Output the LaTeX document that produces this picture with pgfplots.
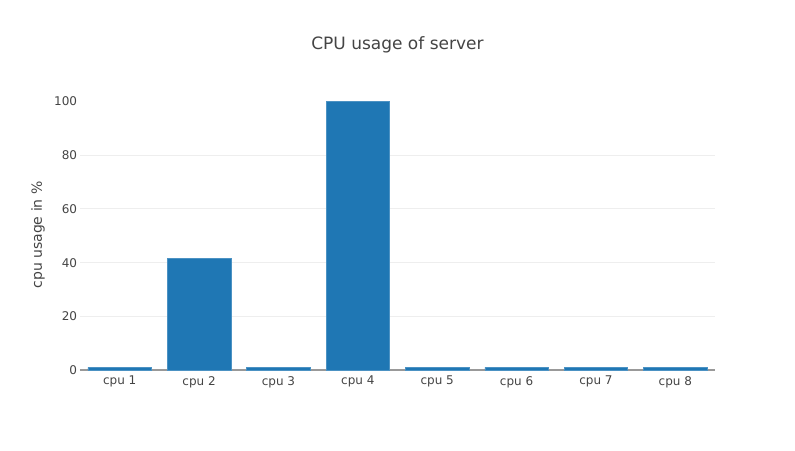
\documentclass[border=0pt]{standalone}
\usepackage{pgfplots}
\pgfplotsset{compat=1.18}
\usepackage{fontspec}
\setmainfont{DejaVu Sans}
\definecolor{barblue}{HTML}{1F77B4}
\definecolor{txt}{HTML}{444444}
\definecolor{gridc}{HTML}{EEEEEE}
\definecolor{zeroc}{HTML}{999999}
\begin{document}
\begin{tikzpicture}
\path[use as bounding box] (-60pt,-60pt) rectangle (536.25pt,277.5pt);
\begin{axis}[
  at={(0,0)}, anchor=south west,
  scale only axis,
  width=476.25pt, height=202.5pt,
  xmin=-0.5, xmax=7.5,
  ymin=0, ymax=100.6,
  ybar, bar width=0.8,
  xtick=data,
  xticklabels={cpu 1,cpu 2,cpu 3,cpu 4,cpu 5,cpu 6,cpu 7,cpu 8},
  ytick={0,20,40,60,80,100},
  extra y ticks={20,40,60,80},
  extra y tick labels={},
  extra y tick style={grid=major, grid style={draw=gridc, line width=0.75pt}},
  axis x line=bottom, axis y line=left,
  x axis line style={draw=zeroc, line width=1.2pt, -},
  y axis line style={draw=none},
  tick style={draw=none},
  /pgf/number format/assume math mode=true,
  ticklabel style={font=\fontsize{9}{10}\selectfont, text=txt},
  xticklabel style={yshift=1pt},
  yticklabel style={xshift=3.5pt},
  ylabel={cpu usage in \%},
  ylabel style={at={(axis description cs:-0.0661,0.5)}, anchor=center, font=\fontsize{10.5}{12}\selectfont, text=txt},
  clip=false,
]
\addplot[fill=barblue, draw=barblue!80!white, line width=0.4pt] coordinates {
  (0,1) (1,41.5) (2,1) (3,100) (4,1) (5,1) (6,1) (7,1)
};
\end{axis}
\node[text=txt, font=\fontsize{12.75}{14}\selectfont] at (238.1pt,243.75pt) {CPU usage of server};
\end{tikzpicture}
\end{document}
